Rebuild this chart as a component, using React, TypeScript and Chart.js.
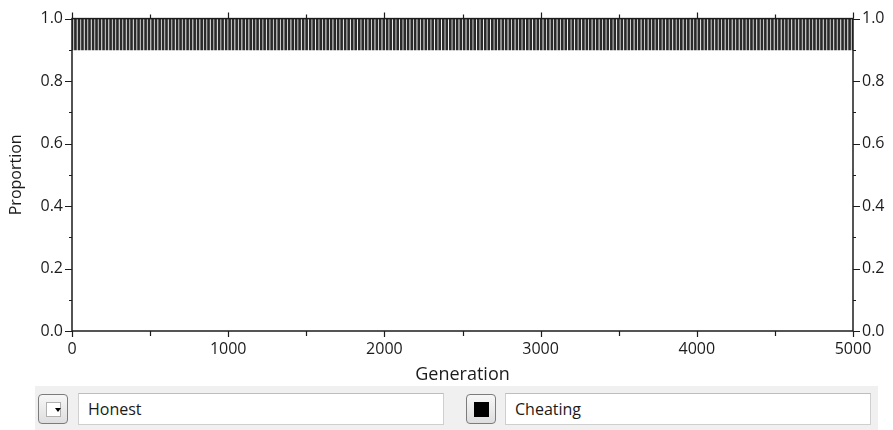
import React, { useEffect, useRef } from "react";
import { Chart, registerables } from "chart.js";

Chart.register(...registerables);

const stripeGenerations = [
  0, 22, 45, 67, 90, 112, 135, 157, 179, 202,
  224, 247, 269, 291, 314, 336, 359, 381, 404, 426,
  448, 471, 493, 516, 538, 561, 583, 605, 628, 650,
  673, 695, 717, 740, 762, 785, 807, 830, 852, 874,
  897, 919, 942, 964, 987, 1009, 1031, 1054, 1076, 1099,
  1121, 1144, 1166, 1188, 1211, 1233, 1256, 1278, 1300, 1323,
  1345, 1368, 1390, 1413, 1435, 1457, 1480, 1502, 1525, 1547,
  1570, 1592, 1614, 1637, 1659, 1682, 1704, 1726, 1749, 1771,
  1794, 1816, 1839, 1861, 1883, 1906, 1928, 1951, 1973, 1996,
  2018, 2040, 2063, 2085, 2108, 2130, 2152, 2175, 2197, 2220,
  2242, 2265, 2287, 2309, 2332, 2354, 2377, 2399, 2422, 2444,
  2466, 2489, 2511, 2534, 2556, 2578, 2601, 2623, 2646, 2668,
  2691, 2713, 2735, 2758, 2780, 2803, 2825, 2848, 2870, 2892,
  2915, 2937, 2960, 2982, 3004, 3027, 3049, 3072, 3094, 3117,
  3139, 3161, 3184, 3206, 3229, 3251, 3274, 3296, 3318, 3341,
  3363, 3386, 3408, 3430, 3453, 3475, 3498, 3520, 3543, 3565,
  3587, 3610, 3632, 3655, 3677, 3700, 3722, 3744, 3767, 3789,
  3812, 3834, 3857, 3879, 3901, 3924, 3946, 3969, 3991, 4013,
  4036, 4058, 4081, 4103, 4126, 4148, 4170, 4193, 4215, 4238,
  4260, 4283, 4305, 4327, 4350, 4372, 4395, 4417, 4439, 4462,
  4484, 4507, 4529, 4552, 4574, 4596, 4619, 4641, 4664, 4686,
  4709, 4731, 4753, 4776, 4798, 4821, 4843, 4865, 4888, 4910,
  4933, 4955, 4978, 5000,
];

// Honest proportion at each stripe (Cheating fills from here up to 1.0)
const honestAtStripe = [
  0.9, 0.9, 0.9, 0.9, 0.9, 0.9, 0.9, 0.9, 0.9, 0.9,
  0.9, 0.9, 0.9, 0.9, 0.9, 0.9, 0.9, 0.9, 0.9, 0.9,
  0.9, 0.9, 0.9, 0.9, 0.9, 0.9, 0.9, 0.9, 0.9, 0.9,
  0.9, 0.9, 0.9, 0.9, 0.9, 0.9, 0.9, 0.9, 0.9, 0.9,
  0.9, 0.9, 0.9, 0.9, 0.9, 0.9, 0.9, 0.9, 0.9, 0.9,
  0.9, 0.9, 0.9, 0.9, 0.9, 0.9, 0.9, 0.9, 0.9, 0.9,
  0.9, 0.9, 0.9, 0.9, 0.9, 0.9, 0.9, 0.9, 0.9, 0.9,
  0.9, 0.9, 0.9, 0.9, 0.9, 0.9, 0.9, 0.9, 0.9, 0.9,
  0.9, 0.9, 0.9, 0.9, 0.9, 0.9, 0.9, 0.9, 0.9, 0.9,
  0.9, 0.9, 0.9, 0.9, 0.9, 0.9, 0.9, 0.9, 0.9, 0.9,
  0.9, 0.9, 0.9, 0.9, 0.9, 0.9, 0.9, 0.9, 0.9, 0.9,
  0.9, 0.9, 0.9, 0.9, 0.9, 0.9, 0.9, 0.9, 0.9, 0.9,
  0.9, 0.9, 0.9, 0.9, 0.9, 0.9, 0.9, 0.9, 0.9, 0.9,
  0.9, 0.9, 0.9, 0.9, 0.9, 0.9, 0.9, 0.9, 0.9, 0.9,
  0.9, 0.9, 0.9, 0.9, 0.9, 0.9, 0.9, 0.9, 0.9, 0.9,
  0.9, 0.9, 0.9, 0.9, 0.9, 0.9, 0.9, 0.9, 0.9, 0.9,
  0.9, 0.9, 0.9, 0.9, 0.9, 0.9, 0.9, 0.9, 0.9, 0.9,
  0.9, 0.9, 0.9, 0.9, 0.9, 0.9, 0.9, 0.9, 0.9, 0.9,
  0.9, 0.9, 0.9, 0.9, 0.9, 0.9, 0.9, 0.9, 0.9, 0.9,
  0.9, 0.9, 0.9, 0.9, 0.9, 0.9, 0.9, 0.9, 0.9, 0.9,
  0.9, 0.9, 0.9, 0.9, 0.9, 0.9, 0.9, 0.9, 0.9, 0.9,
  0.9, 0.9, 0.9, 0.9, 0.9, 0.9, 0.9, 0.9, 0.9, 0.9,
  0.9, 0.9, 0.9, 0.9,
];

const seriesNames = ["Honest", "Cheating"];
const xTickStep = 1000;
const yTickStep = 0.2;

const FONT = "'Open Sans', 'DejaVu Sans', sans-serif";
const INK = "#1c1c1c";

const frameAndTicks = {
  id: "frameAndTicks",
  afterDatasetsDraw(chart: any) {
    const { ctx, chartArea } = chart;
    const xs = chart.scales.x;
    const ys = chart.scales.y;
    const { left, right, top, bottom } = chartArea;
    ctx.save();
    ctx.strokeStyle = INK;
    ctx.lineWidth = 1.5;
    ctx.strokeRect(left, top, right - left, bottom - top);
    ctx.lineWidth = 1.2;
    ctx.beginPath();
    for (let g = 0; g <= 5000; g += 500) {
      const x = Math.round(xs.getPixelForValue(g)) + 0.5;
      const major = g % 1000 === 0;
      ctx.moveTo(x, bottom);
      ctx.lineTo(x, bottom + (major ? 6 : 5));
      ctx.moveTo(x, top);
      ctx.lineTo(x, top - (major ? 6 : 4));
    }
    for (let i = 0; i <= 10; i++) {
      const y = Math.round(ys.getPixelForValue(i / 10)) + 0.5;
      const major = i % 2 === 0;
      ctx.moveTo(left, y);
      ctx.lineTo(left - (major ? 7 : 3), y);
      ctx.moveTo(right, y);
      ctx.lineTo(right + (major ? 7 : 3), y);
    }
    ctx.stroke();
    ctx.restore();
  },
};

function ChartCanvas() {
  const ref = useRef<HTMLCanvasElement | null>(null);
  useEffect(() => {
    if (!ref.current) return;
    const data = stripeGenerations.map((g, i) => ({ x: g, y: [honestAtStripe[i], 1] }));
    const yCommon = (pos: "left" | "right", width: number, showTitle: boolean) => ({
      type: "linear",
      position: pos,
      min: 0,
      max: 1,
      grid: { display: false, drawTicks: false },
      border: { display: false },
      ticks: {
        stepSize: yTickStep,
        padding: 9,
        color: INK,
        font: { family: FONT, size: 16 },
        callback: (v: any) => Number(v).toFixed(1),
      },
      title: {
        display: showTitle,
        text: "Proportion",
        color: INK,
        font: { family: FONT, size: 16 },
        padding: { top: 7, bottom: 0 },
      },
      afterFit: (s: any) => {
        s.width = width;
      },
    });
    const chart = new Chart(ref.current, {
      type: "bar",
      data: {
        datasets: [
          {
            label: seriesNames[1],
            data: data as any,
            backgroundColor: "#2a2a2a",
            borderWidth: 0,
            barThickness: 2,
            grouped: false,
          } as any,
        ],
      },
      options: {
        responsive: false,
        animation: false,
        layout: { padding: { top: 18, left: 0, right: 0, bottom: 0 } },
        plugins: { legend: { display: false }, tooltip: { enabled: false } },
        scales: {
          x: {
            type: "linear",
            position: "bottom",
            offset: false,
            min: 0,
            max: 5000,
            grid: { display: false, drawTicks: false, offset: false },
            border: { display: false },
            ticks: {
              stepSize: xTickStep,
              padding: 9,
              maxRotation: 0,
              color: INK,
              font: { family: FONT, size: 16 },
              callback: (v: any) => String(v),
            },
            title: {
              display: true,
              text: "Generation",
              color: INK,
              font: { family: FONT, size: 18 },
              padding: { top: 0, bottom: 0 },
            },
            afterFit: (s: any) => {
              s.height = 55;
            },
          },
          y: yCommon("left", 72, true) as any,
          y2: yCommon("right", 40, false) as any,
        },
      },
      plugins: [frameAndTicks],
    });
    return () => chart.destroy();
  }, []);
  return <canvas ref={ref} width={893} height={386} style={{ display: "block", width: 893, height: 386 }} />;
}

function SwatchButton({ left, dark }: { left: number; dark: boolean }) {
  return (
    <div
      style={{
        position: "absolute",
        left,
        top: 394,
        width: 30,
        height: 30,
        boxSizing: "border-box",
        border: "1px solid #7c7c7c",
        borderRadius: 4,
        background: "linear-gradient(#f7f7f7, #dedede)",
      }}
    >
      <div
        style={{
          position: "absolute",
          left: 7,
          top: 7,
          width: 15,
          height: 15,
          boxSizing: "border-box",
          background: dark ? "#000" : "#fff",
          border: dark ? "1px solid #000" : "1px solid #b0b0b0",
        }}
      />
      {!dark && (
        <div
          style={{
            position: "absolute",
            left: 16,
            top: 13,
            width: 0,
            height: 0,
            borderLeft: "3px solid transparent",
            borderRight: "3px solid transparent",
            borderTop: "4px solid #000",
          }}
        />
      )}
    </div>
  );
}

function NameField({ left, width, text }: { left: number; width: number; text: string }) {
  return (
    <div
      style={{
        position: "absolute",
        left,
        top: 393,
        width,
        height: 32,
        boxSizing: "border-box",
        border: "1px solid #cfcfcf",
        borderTopColor: "#bdbdbd",
        background: "#fff",
        fontFamily: FONT,
        fontSize: 16,
        color: "#1a1a1a",
        lineHeight: "30px",
        paddingLeft: 9,
      }}
    >
      {text}
    </div>
  );
}

export default function App() {
  return (
    <div
      style={{
        position: "fixed",
        left: 0,
        top: 0,
        width: 893,
        height: 430,
        background: "#fff",
        overflow: "hidden",
      }}
    >
      <ChartCanvas />
      <div
        style={{
          position: "absolute",
          left: 35,
          top: 386,
          width: 843,
          height: 44,
          background: "#f0f0f0",
        }}
      />
      <SwatchButton left={38} dark={false} />
      <NameField left={78} width={366} text={seriesNames[0]} />
      <SwatchButton left={466} dark={true} />
      <NameField left={505} width={366} text={seriesNames[1]} />
    </div>
  );
}
